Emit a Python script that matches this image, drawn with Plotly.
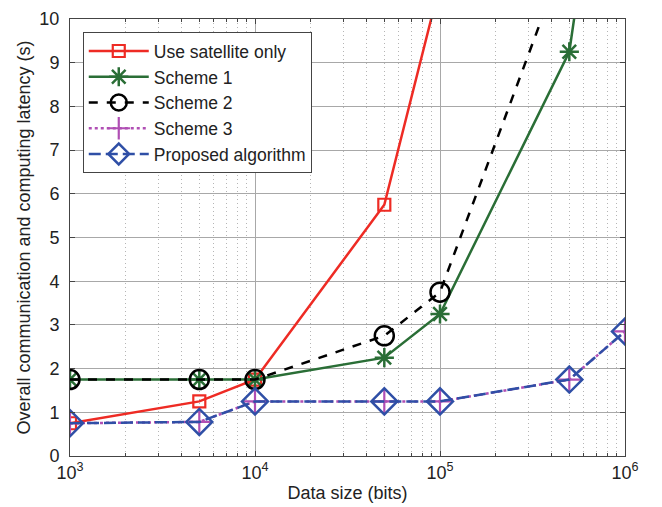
import plotly.graph_objects as go

x_bits = [1e3, 5e3, 1e4, 5e4, 1e5, 5e5, 1e6]

sat_only = [0.75, 1.25, 1.75, 5.75, 10.8, None, None]
scheme1 = [1.75, 1.75, 1.75, 2.25, 3.25, 9.25, 18.0]
scheme2 = [1.75, 1.75, 1.75, 2.75, 3.75, 11.7, None]
scheme3 = [0.75, 0.78, 1.25, 1.25, 1.25, 1.75, 2.85]
proposed = [0.75, 0.78, 1.25, 1.25, 1.25, 1.75, 2.85]

x_tickvals = [1e3, 1e4, 1e5, 1e6]
x_ticktext = ["10<sup>3</sup>", "10<sup>4</sup>", "10<sup>5</sup>", "10<sup>6</sup>"]
y_tickvals = list(range(0, 11))

FONT = "Liberation Sans, Arial, Helvetica, sans-serif"
TXT = "#222222"

fig = go.Figure()
fig.add_trace(go.Scatter(
    x=x_bits, y=sat_only, name="Use satellite only", mode="lines+markers",
    line=dict(color="#ee2b24", width=2.5),
    marker=dict(symbol="square-open", size=12, color="#ee2b24", line=dict(width=2.2)),
    connectgaps=False))
fig.add_trace(go.Scatter(
    x=x_bits, y=scheme1, name="Scheme 1", mode="lines+markers",
    line=dict(color="#2a6e36", width=2.5),
    marker=dict(symbol="asterisk-open", size=16, color="#2a6e36", line=dict(width=2.5, color="#2a6e36"))))
fig.add_trace(go.Scatter(
    x=x_bits, y=scheme2, name="Scheme 2", mode="lines+markers",
    line=dict(color="black", width=2.5, dash="dash"),
    marker=dict(symbol="circle-open", size=19, color="black", line=dict(width=2.5))))
fig.add_trace(go.Scatter(
    x=x_bits, y=scheme3, name="Scheme 3", mode="lines+markers",
    line=dict(color="#b04fb4", width=2.5, dash="dot"),
    marker=dict(symbol="cross-thin-open", size=18, color="#b04fb4", line=dict(width=2.2, color="#b04fb4"))))
fig.add_trace(go.Scatter(
    x=x_bits, y=proposed, name="Proposed algorithm", mode="lines+markers",
    line=dict(color="#2f4fa6", width=2.5, dash="12px,5px"),
    marker=dict(symbol="diamond-open", size=20, color="#2f4fa6", line=dict(width=2.5))))

axis_common = dict(
    showline=True, linecolor="#444444", linewidth=1, mirror="ticks",
    ticks="inside", ticklen=5, tickcolor="#444444",
    showgrid=True, gridcolor="#a8a8a8", gridwidth=1.3,
    zeroline=False, automargin=False,
    tickfont=dict(family=FONT, size=18, color=TXT),
)

fig.update_xaxes(
    type="log", range=[3, 6],
    tickvals=x_tickvals, ticktext=x_ticktext,
    title=dict(text="Data size (bits)", font=dict(family=FONT, size=18, color=TXT), standoff=4),
    minor=dict(showgrid=True, gridcolor="#b5b5b5", griddash="1px,3px", gridwidth=1,
               ticks="inside", ticklen=3, tickcolor="#444444", dtick="D1"),
    **axis_common)
fig.update_yaxes(
    range=[0, 10], tickvals=y_tickvals,
    title=dict(text="Overall communication and computing latency (s)", font=dict(family=FONT, size=18, color=TXT), standoff=4),
    ticklabelstandoff=6,
    **axis_common)

# page body has an 8px default margin, so the figure is sized to fit the window
fig.update_layout(
    width=654, height=499,
    margin=dict(l=62, r=37, t=11, b=51),
    paper_bgcolor="white", plot_bgcolor="white",
    font=dict(family=FONT, size=16, color=TXT),
    showlegend=True,
    legend=dict(
        x=0.023, y=0.97, xanchor="left", yanchor="top",
        bgcolor="white", bordercolor="#444444", borderwidth=1,
        font=dict(family=FONT, size=17.5, color=TXT),
        tracegroupgap=0, itemwidth=60,
    ),
)

fig.write_html("out.html")
